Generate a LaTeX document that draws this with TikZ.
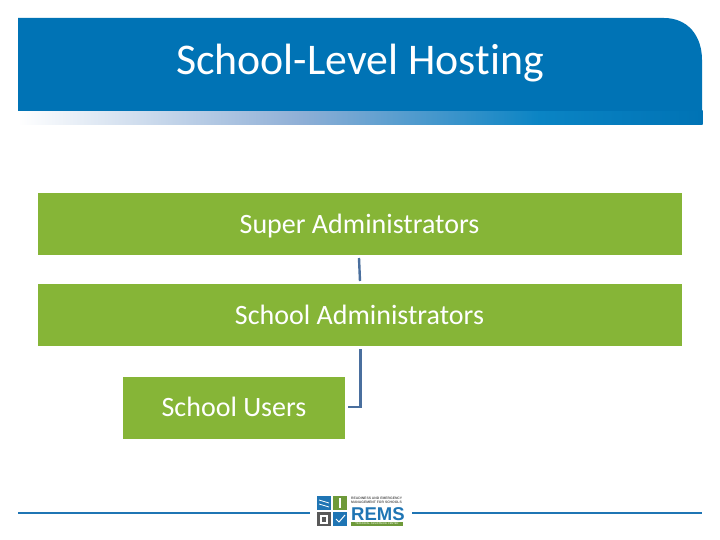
\documentclass[tikz,border=0pt]{standalone}
\usepackage{fontspec}
\setmainfont[RawFeature={-liga}]{Carlito}
\newfontfamily\logofont{Liberation Sans}
\definecolor{hdrblue}{HTML}{0073B5}
\definecolor{midblue}{HTML}{8FAFD6}
\definecolor{stripblue}{HTML}{0A84C4}
\definecolor{boxgreen}{HTML}{86B537}
\definecolor{linkblue}{HTML}{4A6F9E}
\definecolor{rulecol}{HTML}{1F75B4}
\definecolor{logogreen}{HTML}{6E9A3A}
\tikzset{
  levelbox/.style={fill=boxgreen,draw=none,inner sep=0pt},
  levellabel/.style={text=white,inner sep=0pt,font=\fontsize{28}{30}\selectfont},
  link/.style={draw=linkblue,line width=2.4pt},
  footrule/.style={draw=rulecol,line width=2pt},
  tile/.style={inner sep=0pt,minimum width=14pt,minimum height=14pt}
}
\begin{document}
\begin{tikzpicture}[x=1pt,y=-1pt]
\useasboundingbox (0,0) rectangle (720,540);
\fill[white] (0,0) rectangle (720,540);
% header
\shade[left color=white,right color=midblue] (18,111) rectangle (300,124.5);
\shade[left color=midblue,right color=stripblue] (300,111) rectangle (540,124.5);
\shade[left color=stripblue,right color=hdrblue] (540,111) rectangle (702.5,124.5);
\fill[hdrblue] (18,111) -- (18,18) -- (664,18) .. controls (688,18) and (702,36) .. (702,60) -- (702,111) -- cycle;
\node[text=white,inner sep=0pt,font=\fontsize{43.8}{46}\selectfont] (title) at (360,63.5) {School-Level Hosting};
% boxes
\node[levelbox,minimum width=644pt,minimum height=62pt] (super) at (360,224) {};
\node[levelbox,minimum width=644pt,minimum height=62pt] (school) at (360,315) {};
\node[levelbox,minimum width=222pt,minimum height=62pt] (users) at (234,408) {};
\node[levellabel] (superlabel) at (359.5,226) {Super Administrators};
\node[levellabel] (schoollabel) at (359.5,315) {School Administrators};
\node[levellabel] (userslabel) at (234,407) {School Users};
% connectors
\coordinate (a1) at (359,258);
\coordinate (a2) at (360,281);
\coordinate (b1) at (360.5,349);
\coordinate (b2) at (348,407);
\draw[link] (a1) -- (a2);
\draw[link] (b1) |- (b2);
% footer
\coordinate (r1) at (18,512.5);
\coordinate (r2) at (310,512.5);
\coordinate (r3) at (412,512.5);
\coordinate (r4) at (702,512.5);
\draw[footrule] (r1) -- (r2);
\draw[footrule] (r3) -- (r4);
% logo
\node[tile,fill=rulecol] (t1) at (324,503) {};
\node[tile,fill=logogreen] (t2) at (340,503) {};
\node[tile,fill=gray!70!black] (t3) at (324,519) {};
\node[tile,fill=rulecol] (t4) at (340,519) {};
\draw[white,line width=.8pt] (319,500) -- (329,503) (319,504) -- (329,507);
\draw[white,line width=1.2pt] (340,498) -- (340,508);
\draw[white,line width=1.2pt] (321,516) rectangle (327,523);
\draw[white,line width=1pt] (336,519) -- (339,522) -- (345,515);
\node[inner sep=0pt,anchor=west,align=left,text=gray!70!black,font=\logofont\bfseries\fontsize{3.4}{4.2}\selectfont] (cap) at (351,500.5) {READINESS AND EMERGENCY\\MANAGEMENT FOR SCHOOLS};
\node[inner sep=0pt,anchor=base west,text=rulecol,font=\logofont\bfseries\fontsize{18.5}{18.5}\selectfont] (rems) at (351,520.5) {REMS};
\fill[logogreen] (351,522) rectangle (403,526);
\node[inner sep=0pt,text=white,font=\logofont\fontsize{2.6}{2.8}\selectfont] (tac) at (377,524) {TECHNICAL ASSISTANCE CENTER};
\end{tikzpicture}
\end{document}
